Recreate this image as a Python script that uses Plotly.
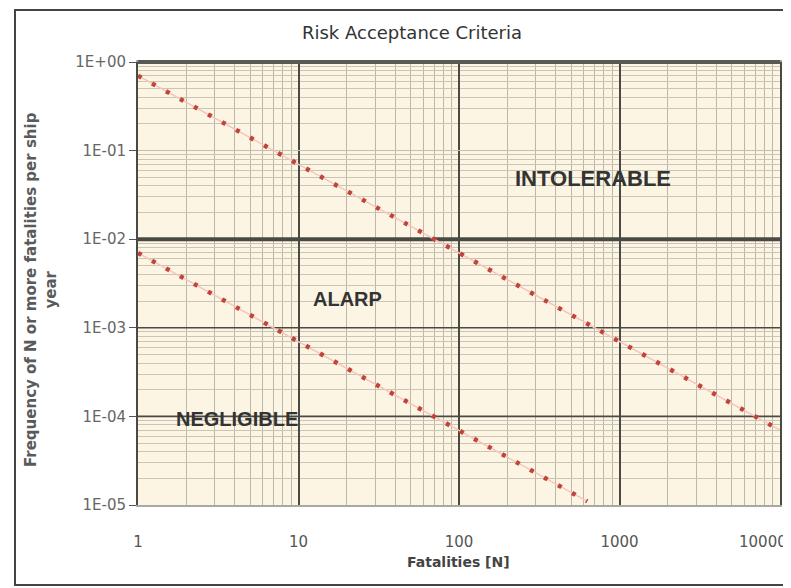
import math
import plotly.graph_objects as go

# Data
fatalities_upper = [1, 10000]
freq_upper = [0.7, 7e-5]
fatalities_lower = [1, 630]
freq_lower = [7e-3, 1.1e-5]
criteria_levels = [1e-2, 1e-3, 1e-4]
criteria_widths = [4, 1.6, 1.6]
x_tickvals = [1, 10, 100, 1000, 10000]
x_ticktext = ["1", "10", "100", "1000", "10000"]
y_tickvals = [1, 1e-1, 1e-2, 1e-3, 1e-4, 1e-5]
y_ticktext = ["1E+00", "1E-01", "1E-02", "1E-03", "1E-04", "1E-05"]
region_labels = ["INTOLERABLE", "ALARP", "NEGLIGIBLE"]
region_x = [684, 20.3, 4.14]
region_y = [0.049, 0.00211, 9.3e-5]
region_sizes = [22, 20, 20]

FONT = "DejaVu Sans"
ARIAL = "Liberation Sans, Arial"

fig = go.Figure()

for lvl, w in zip(criteria_levels, criteria_widths):
    fig.add_trace(go.Scatter(x=[1, 10000], y=[lvl, lvl], mode="lines",
                             line=dict(color="#4a4a44", width=w),
                             hoverinfo="skip", showlegend=False))

for xs, ys in [(fatalities_upper, freq_upper), (fatalities_lower, freq_lower)]:
    fig.add_trace(go.Scatter(x=xs, y=ys, mode="lines",
                             line=dict(color="#f6c4bc", width=1.5),
                             hoverinfo="skip", showlegend=False))
    fig.add_trace(go.Scatter(x=xs, y=ys, mode="lines",
                             line=dict(color="#c0443a", width=4.5, dash="4px,12px"),
                             hoverinfo="skip", showlegend=False))

for t, x, y, s in zip(region_labels, region_x, region_y, region_sizes):
    fig.add_annotation(x=math.log10(x), y=math.log10(y), xref="x", yref="y",
                       text="<b>%s</b>" % t, showarrow=False,
                       font=dict(family=ARIAL, size=s, color="#333333"))

# last x tick label kept inside the window (right-anchored)
shown_ticktext = x_ticktext[:-1] + [""]
fig.add_annotation(x=math.log10(x_tickvals[-1]), y=-(534 - 497) / 443, xref="x", yref="paper",
                   text=x_ticktext[-1], showarrow=False, xanchor="right", yanchor="middle",
                   xshift=9, font=dict(family=FONT, size=15, color="#555555"))

# axis titles
fig.add_annotation(x=(33 - 130) / 642, y=(497 - 282) / 443, xref="paper", yref="paper",
                   text="<b>Frequency of N or more fatalities per ship<br>year</b>",
                   textangle=-90, showarrow=False, xanchor="center", yanchor="middle",
                   font=dict(family=FONT, size=15, color="#5a5a5a"))
fig.add_annotation(x=(450 - 130) / 642, y=-(554 - 497) / 443, xref="paper", yref="paper",
                   text="<b>Fatalities [N]</b>", showarrow=False,
                   xanchor="center", yanchor="middle",
                   font=dict(family=FONT, size=14, color="#444444"))

fig.update_layout(
    width=791, height=588,
    margin=dict(l=130, r=19, t=54, b=91, autoexpand=False),
    paper_bgcolor="white",
    plot_bgcolor="#fdf5e3",
    title=dict(text="Risk Acceptance Criteria", x=404 / 791, xanchor="center",
               y=1 - 25 / 588, yanchor="middle", yref="container",
               font=dict(family=FONT, size=18, color="#333333")),
    font=dict(family=FONT, color="#555555"),
    xaxis=dict(type="log", range=[0, 4], tickvals=x_tickvals, ticktext=shown_ticktext,
               automargin=False,
               showgrid=True, gridcolor="#4a4a44", gridwidth=1.6,
               minor=dict(dtick="D1", showgrid=True, gridcolor="#bdb7a8", gridwidth=1, ticks=""),
               showline=True, linecolor="#a8a8a4", linewidth=2, mirror=True,
               ticks="", ticklabelstandoff=22, ticklabeloverflow="allow",
               tickfont=dict(size=15, color="#555555"),
               zeroline=False),
    yaxis=dict(type="log", range=[-5, 0], tickvals=y_tickvals, ticktext=y_ticktext,
               automargin=False,
               showgrid=True, gridcolor="#c4beb0", gridwidth=1,
               minor=dict(dtick="D1", showgrid=True, gridcolor="#cbc5b6", gridwidth=1, ticks=""),
               showline=True, linecolor="#4a4a44", linewidth=2, mirror=True,
               ticks="outside", ticklen=7, tickcolor="#555555",
               tickfont=dict(size=15, color="#666666"),
               zeroline=False),
)

fig.add_shape(type="line", xref="paper", yref="paper", x0=0, x1=1, y0=1, y1=1,
              line=dict(color="#5a5a54", width=4))
fig.add_shape(type="rect", xref="paper", yref="paper",
              x0=(7 - 130) / 642, x1=(800 - 130) / 642,
              y0=-(577 - 497) / 443, y1=1 + (54 - 2) / 443,
              line=dict(color="#444444", width=2), layer="below")

fig.write_html("out.html")
